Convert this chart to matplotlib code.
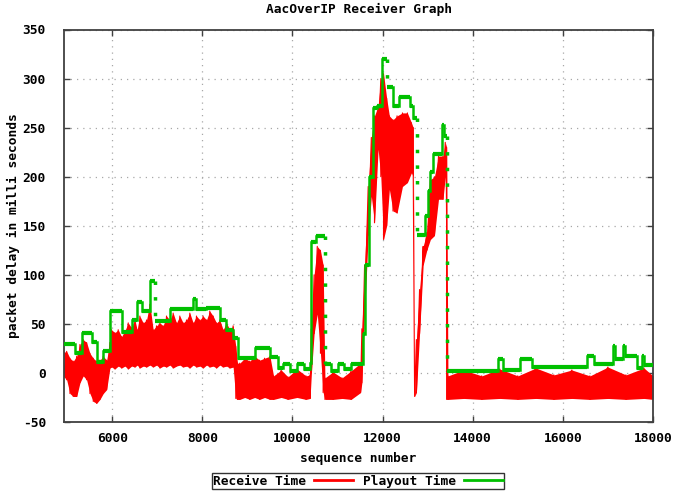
import matplotlib
matplotlib.use('Agg')
import matplotlib.pyplot as plt
import numpy as np
from matplotlib.lines import Line2D

# AacOverIP receiver graph: receive time (red, noisy band) and playout time (green steps)

recv_seq = [4930, 4989, 5062, 5135, 5211, 5284, 5357, 5432, 5506, 5579, 5654, 5727, 5800, 5876,
            5949, 5985, 6059, 6133, 6207, 6281, 6355, 6429, 6503, 6554, 6613, 6687, 6761, 6835,
            6909, 6983, 7057, 7131, 7205, 7278, 7352, 7426, 7500, 7574, 7648, 7722, 7796, 7870,
            7944, 8017, 8091, 8165, 8239, 8313, 8387, 8461, 8535, 8609, 8683, 8742, 8780, 8830,
            8940, 9050, 9160, 9270, 9380, 9500, 9580, 9750, 9900, 10100, 10300, 10390,
            10420, 10480, 10550, 10620, 10680, 10720, 10900, 11100, 11300, 11510, 11540, 11600,
            11680, 11750, 11820, 11900, 11960, 12020, 12090, 12150, 12230, 12320, 12440, 12550,
            12640, 12680, 12710, 12750, 12820, 12900, 12980, 13060, 13150, 13240, 13340, 13390,
            13420, 13450, 13800, 14200, 14600, 15000, 15400, 15800, 16200, 16600, 17000, 17400,
            17800, 18000]
recv_hi = [21, 22, 15, 12, 17, 29, 34, 31, 20, 15, 12, 13, 17, 13,
           31, 44, 41, 44, 37, 43, 51, 46, 54, 44, 58, 51, 54, 70,
           44, 48, 51, 48, 58, 54, 61, 51, 58, 51, 54, 61, 51, 58,
           54, 58, 54, 63, 58, 51, 54, 44, 51, 44, 48, 27, 10, 10,
           15, 12, 17, 13, 15, 17, -3, 3, -4, 4, -3, -2,
           45, 100, 129, 125, 110, -5, 1, -5, 2, 10, 45, 110,
           190, 240, 262, 272, 300, 305, 280, 262, 258, 262, 265, 265,
           255, 250, -20, 34, 85, 129, 143, 197, 200, 221, 221, 235,
           230, -3, 3, -3, 4, -3, 5, -2, 3, -3, 6, -2,
           5, -3]
recv_lo = [-4, -7, -21, -24, -24, -10, -3, -7, -21, -29, -31, -27, -21, -17,
           5, 6, 4, 7, 5, 7, 4, 7, 6, 8, 5, 7, 6, 8,
           6, 8, 5, 7, 6, 8, 5, 7, 8, 6, 7, 5, 8, 6,
           7, 5, 8, 6, 7, 5, 8, 6, 7, 5, 6, -26, -27, -27,
           -25, -27, -25, -27, -25, -27, -27, -25, -27, -25, -27, -26,
           0, 40, 60, 20, -20, -27, -27, -26, -27, -20, -10, 60,
           140, 180, 153, 228, 200, 136, 150, 187, 165, 163, 190, 194,
           204, 200, -24, -20, 40, 110, 125, 136, 140, 177, 177, 200,
           -27, -27, -26, -27, -26, -27, -26, -27, -26, -27, -26, -27,
           -26, -27]

# playout time: level starts (sequence number) and level values
play_seq = [4930, 5172, 5320, 5542, 5653, 5800, 5948, 6207, 6429, 6540, 6650, 6835, 6946, 7278,
            7796, 7870, 8090, 8387, 8535, 8683, 8793, 9164, 9497, 9675, 9800, 9950, 10100, 10250,
            10380, 10420, 10530, 10717, 10850, 11000, 11150, 11300, 11555, 11620, 11700, 11780,
            11880, 11990, 12090, 12230, 12370, 12600, 12680, 12760, 12940, 13000, 13060, 13120,
            13310, 13360, 13420, 14550, 14670, 15040, 15310, 16530, 16700, 17110, 17150, 17330,
            17370, 17640, 17750, 17810, 17990]
play_val = [30, 20, 41, 32, 11, 22, 63, 42, 54, 72, 63, 94, 53, 65,
            75, 65, 66, 54, 44, 36, 15, 25, 16, 5, 9, 2, 9, 4,
            10, 133, 140, 9, 2, 9, 4, 9, 40, 110, 200, 270,
            272, 320, 291, 272, 281, 272, 260, 141, 160, 185, 205, 223,
            253, 241, 2, 14, 3, 14, 6, 17, 9, 27, 14, 27,
            17, 5, 17, 8, 8]

x_ticks = [6000, 8000, 10000, 12000, 14000, 16000, 18000]
y_ticks = [-50, 0, 50, 100, 150, 200, 250, 300, 350]

red = '#ff0000'
green = '#00c000'
font = {'family': 'DejaVu Sans Mono', 'weight': 'bold', 'size': 9.3}

fig = plt.figure(figsize=(6.73, 4.97), dpi=100)
ax = fig.add_axes([64/673, 1 - 422/497, (653 - 64)/673, (422 - 29.5)/497])

# receive time: filled band plus a zigzag through the read envelope
ax.fill_between(recv_seq, recv_lo, recv_hi, color=red, lw=0, zorder=2)
zz_x = np.repeat(recv_seq, 2)
zz_y = np.column_stack([recv_hi, recv_lo]).ravel()
ax.plot(zz_x, zz_y, color=red, lw=0.8, zorder=2)

# playout time: thick levels, solid rises, dotted falls
px = np.array(play_seq + [18000])
py = np.array(play_val)
ax.hlines(py, px[:-1], px[1:], color=green, lw=3, zorder=3)
for i in range(1, len(py)):
    drop = py[i - 1] - py[i]
    if drop > 25:
        ax.plot([px[i], px[i]], [py[i - 1], py[i]], color=green, lw=2.5,
                linestyle=(0, (1, 3.5)), zorder=3)
    else:
        ax.plot([px[i], px[i]], [py[i - 1], py[i]], color=green, lw=1.8, zorder=3)

ax.set_xlim(4930, 18000)
ax.set_ylim(-50, 350)
ax.set_xticks(x_ticks)
ax.set_yticks(y_ticks)
ax.set_xticklabels([str(t) for t in x_ticks], fontdict=font)
ax.set_yticklabels([str(t) for t in y_ticks], fontdict=font)
ax.tick_params(direction='in', length=4, width=1, color='#404040',
               top=True, right=True, pad=7)
ax.tick_params(axis='y', pad=13)
ax.grid(True, color='#a8a8a8', lw=0.9, linestyle=(0, (1, 4)))
for s in ax.spines.values():
    s.set_color('#404040')
    s.set_linewidth(1.3)

ax.set_title('AacOverIP Receiver Graph', fontdict=font, pad=12)
ax.set_xlabel('sequence number', fontdict=font, labelpad=5)
ax.set_ylabel('packet delay in milli seconds', fontdict=font, labelpad=2)

handles = [Line2D([], [], color=red, lw=2), Line2D([], [], color=green, lw=2)]
leg = fig.legend(handles, ['Receive Time', 'Playout Time'], ncol=2, loc='center',
                 bbox_to_anchor=(358/673, 1 - 481/497), markerfirst=False,
                 prop=font, frameon=True, fancybox=False, edgecolor='black',
                 handlelength=3.0, borderpad=0.1, columnspacing=0.8,
                 handletextpad=0.6, borderaxespad=0)
leg.get_frame().set_linewidth(1.0)

fig.savefig('out.png', dpi=100)
